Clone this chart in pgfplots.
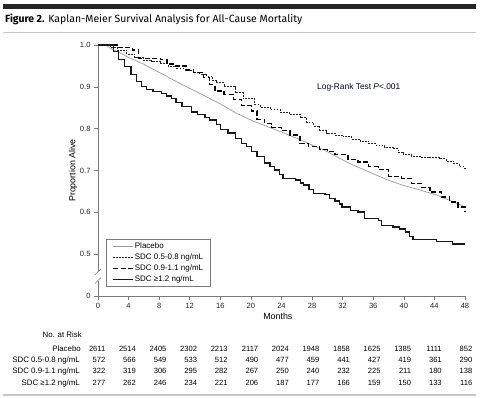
\documentclass[border=0pt]{standalone}
\usepackage{pgfplots}
\pgfplotsset{compat=1.18}
\usepackage{fontspec}
\setmainfont{Liberation Sans}
\newfontfamily\titlefont{Fira Sans}
\definecolor{axisgray}{HTML}{7A7A7A}
\definecolor{placebogray}{HTML}{9A9A9A}
\newcommand\sm{\fontsize{7.6}{9}\selectfont}
\newcommand\tb{\fontsize{7.9}{9}\selectfont}
\newcommand\lgd{\fontsize{8}{9.5}\selectfont}
\newcommand\lbl{\fontsize{8.9}{10}\selectfont}
\begin{document}
\begin{tikzpicture}
\path[use as bounding box] (0,0) rectangle (480bp,-398bp);
\begin{axis}[
  at={(98bp,-296bp)}, anchor=south west,
  scale only axis, width=367bp, height=251bp,
  xmin=0, xmax=48, ymin=0.4, ymax=1.0,
  axis lines=left, axis line style={axisgray, line width=0.6bp, -},
  xtick={0,4,...,48}, ytick={0.4,0.5,0.6,0.7,0.8,0.9,1.0},
  yticklabels={0,0.5,0.6,0.7,0.8,0.9,1.0},
  tick align=outside, major tick length=4bp,
  tick style={axisgray, line width=0.6bp},
  ticklabel style={font=\sm, text=black!85},
  /pgf/number format/assume math mode=true,
  xlabel={Months}, ylabel={Proportion Alive},
  xlabel style={at={(axis description cs:0.49,-0.082)}, anchor=center, font=\lbl},
  ylabel style={at={(axis description cs:-0.068,0.5)}, anchor=center, font=\lbl},
  clip=false,
  legend cell align=left,
  legend image code/.code={\draw[#1] (0bp,0bp) -- (20bp,0bp);},
  legend style={at={(rel axis cs:0.022,0.036)}, anchor=south west,
    draw=axisgray, line width=0.5bp, font=\lgd, inner xsep=6bp, inner ysep=2.5bp,
    nodes={inner sep=1.2bp}, row sep=1.3bp,
    /tikz/every even column/.append style={column sep=5bp}},
]
% Placebo
\addplot[placebogray, line width=0.7bp] coordinates {
(0,1.0) (1.0,1.0) (1.8,0.99) (2.7,0.983) (4,0.97) (5.9,0.955) (7,0.944) (8.7,0.928)
(10.5,0.91) (12.5,0.892) (14,0.878) (16,0.859) (18,0.838) (20.3,0.818) (22,0.806)
(24,0.792) (26,0.777) (28,0.761) (30,0.745) (31,0.735) (33,0.716) (35.4,0.697)
(37.8,0.678) (40,0.664) (42,0.654) (44,0.643) (45.4,0.633) (46.5,0.625) (48,0.613)};
\addlegendentry{Placebo}
% SDC 0.5-0.8
\addplot[black!85, line width=0.7bp, dash pattern=on 1.8bp off 1.2bp, const plot] coordinates {
(0,1.0) (1.2,1.0) (1.6,0.995) (2.5,0.988) (3.75,0.978) (4.8,0.97) (5.9,0.964) (7.0,0.96)
(8.1,0.955) (9.2,0.95) (10.3,0.944) (11.4,0.94) (12.5,0.935) (13.3,0.93) (14.2,0.925)
(15.0,0.915) (15.5,0.91) (16.5,0.9) (17.9,0.886) (19.0,0.872) (20.5,0.858) (21.2,0.852)
(22.5,0.846) (23.8,0.84) (25.0,0.835) (26.4,0.826) (27.3,0.815) (28.2,0.806) (29.0,0.797)
(29.9,0.79) (31.0,0.785) (32.1,0.781) (33.2,0.775) (34.3,0.77) (35.4,0.764) (36.4,0.76)
(37.5,0.756) (38.6,0.752) (39.3,0.743) (39.9,0.738) (41.0,0.735) (42.1,0.732) (43.4,0.731)
(44.7,0.728) (45.5,0.722) (46.5,0.716) (47.2,0.71) (47.8,0.705) (48,0.702)};
\addlegendentry{SDC 0.5-0.8 ng/mL}
% SDC 0.9-1.1
\addplot[black, line width=1.4bp, dash pattern=on 5bp off 2.5bp, const plot] coordinates {
(0,1.0) (1.8,1.0) (2.5,0.994) (4.5,0.988) (5.3,0.968) (8.2,0.965) (9.0,0.955) (10,0.95)
(11.6,0.94) (12.5,0.934) (13.8,0.922) (14.6,0.905) (15.3,0.89) (16.5,0.882) (17.7,0.87)
(18.8,0.855) (20.1,0.842) (20.8,0.822) (21.8,0.812) (22.7,0.803) (24,0.795) (25.1,0.785)
(26.4,0.765) (27.5,0.758) (29,0.75) (30,0.745) (31,0.738) (32.7,0.727) (34,0.72)
(35.4,0.709) (36.7,0.703) (38,0.686) (39.7,0.681) (41,0.669) (42.3,0.66) (43.4,0.649)
(44.9,0.637) (46,0.625) (47.1,0.613) (48,0.603)};
\addlegendentry{SDC 0.9-1.1 ng/mL}
% SDC >=1.2
\addplot[black!90, line width=1.3bp, const plot] coordinates {
(0,1.0) (1.3,1.0) (2.0,0.985) (2.7,0.966) (3.5,0.948) (4.3,0.93) (5.0,0.913) (5.7,0.9)
(6.3,0.893) (7.2,0.889) (8.3,0.884) (9.0,0.878) (9.6,0.872) (10.2,0.862) (11.0,0.853)
(12.2,0.84) (13.0,0.834) (14.0,0.827) (14.6,0.821) (15.5,0.81) (16.0,0.798) (17.0,0.79)
(18.0,0.776) (18.8,0.765) (19.4,0.758) (20.1,0.745) (20.8,0.733) (21.8,0.718) (22.5,0.71)
(23.1,0.701) (23.7,0.69) (24.2,0.681) (25.8,0.677) (26.5,0.67) (26.9,0.665) (27.6,0.655)
(28.2,0.645) (29.7,0.643) (30.3,0.633) (31.0,0.627) (31.6,0.62) (31.9,0.613) (33.0,0.605)
(34.0,0.601) (34.9,0.585) (36.7,0.581) (37.1,0.569) (38.6,0.565) (39.4,0.56) (40.2,0.553)
(40.7,0.543) (41.2,0.535) (44.1,0.535) (44.3,0.53) (46.3,0.53) (46.4,0.524) (48,0.524)};
\addlegendentry{SDC \char"2265 1.2 ng/mL}
% axis break
\fill[white] ([xshift=-1.5bp]axis cs:0,0.437) rectangle ([xshift=1.5bp]axis cs:0,0.458);
\draw[axisgray, line width=0.6bp] ([xshift=-3bp,yshift=-3bp]axis cs:0,0.437) -- ([xshift=3bp,yshift=3bp]axis cs:0,0.437);
\draw[axisgray, line width=0.6bp] ([xshift=-3bp,yshift=-3bp]axis cs:0,0.458) -- ([xshift=3bp,yshift=3bp]axis cs:0,0.458);
\node[font=\fontsize{8.4}{10}\selectfont, text=black!80!blue] at (axis cs:34.1,0.900) {Log-Rank Test \textit{P}<.001};
\end{axis}
\begin{scope}[x=1bp,y=-1bp]
\fill[black!85] (3,4) rectangle (476,9.3);
\draw[black!22, line width=1.5bp] (3,32.5) -- (476,32.5);
\node[anchor=base west, inner sep=0] at (5,22.5) {\titlefont\fontsize{10.5}{13}\selectfont\textbf{Figure 2.} Kaplan-Meier Survival Analysis for All-Cause Mortality};
\draw[black!22, line width=1.2bp] (3,395) -- (476,395);
\node[anchor=base east, inner sep=0, font=\tb] at (82,337) {No. at Risk};
\node[anchor=base east, inner sep=0, font=\tb] at (81,351) {Placebo};
\node[anchor=base east, inner sep=0, font=\tb] at (80,362) {SDC 0.5-0.8 ng/mL};
\node[anchor=base east, inner sep=0, font=\tb] at (80,373.5) {SDC 0.9-1.1 ng/mL};
\node[anchor=base east, inner sep=0, font=\tb] at (80,385) {SDC \char"2265 1.2 ng/mL};
\foreach \v [count=\i from 0] in {2611,2514,2405,2302,2213,2117,2024,1948,1858,1625,1385,1111,852}
  \node[anchor=base east, inner sep=0, font=\sm] at ({105.5+30.58*\i},351) {\v};
\foreach \v [count=\i from 0] in {572,566,549,533,512,490,477,459,441,427,419,361,290}
  \node[anchor=base east, inner sep=0, font=\sm] at ({105.5+30.58*\i},362) {\v};
\foreach \v [count=\i from 0] in {322,319,306,295,282,267,250,240,232,225,211,180,138}
  \node[anchor=base east, inner sep=0, font=\sm] at ({105.5+30.58*\i},373.5) {\v};
\foreach \v [count=\i from 0] in {277,262,246,234,221,206,187,177,166,159,150,133,116}
  \node[anchor=base east, inner sep=0, font=\sm] at ({105.5+30.58*\i},385) {\v};
\end{scope}
\end{tikzpicture}
\end{document}
